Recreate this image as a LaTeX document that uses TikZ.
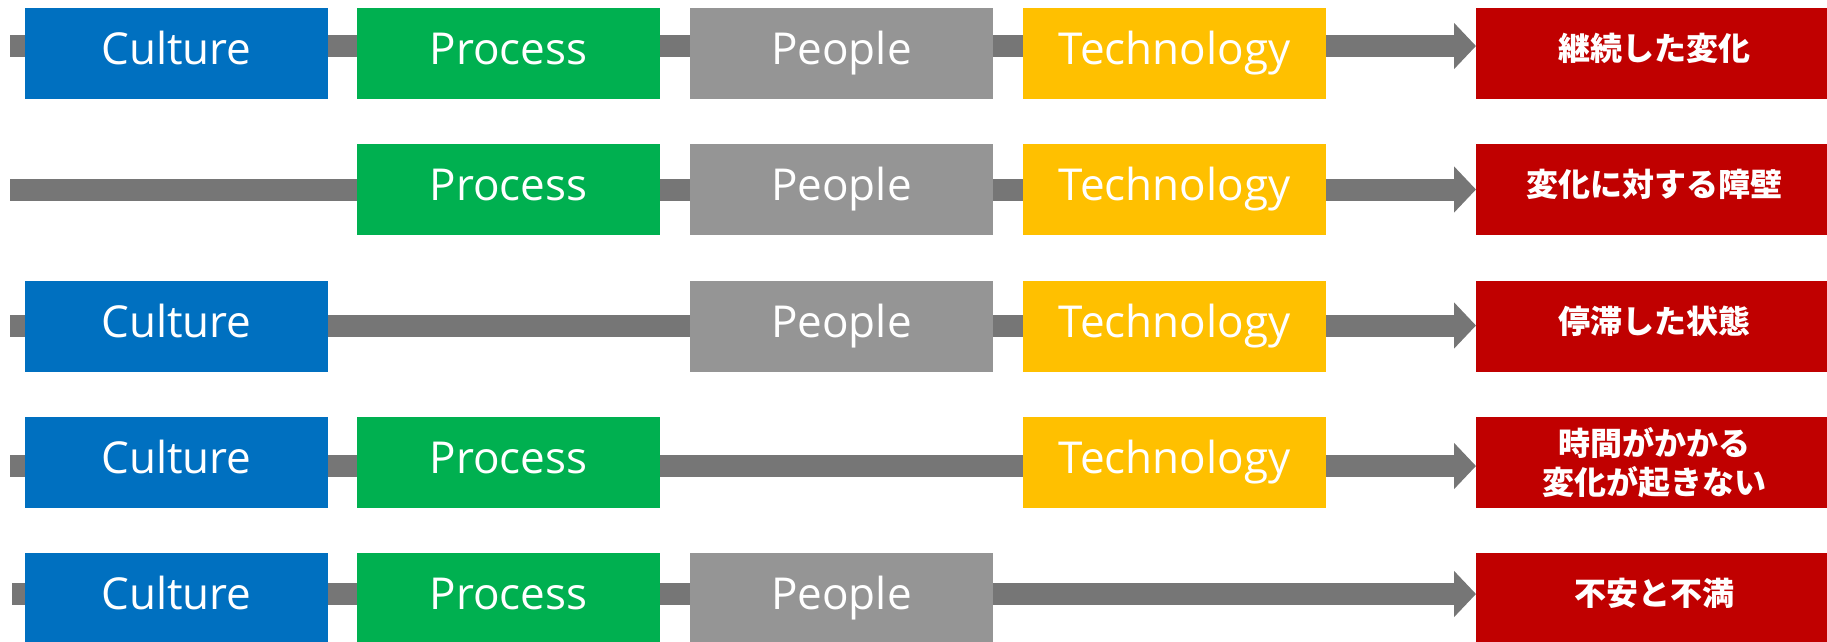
\documentclass[tikz,border=0pt]{standalone}
\usepackage{fontspec}
\setmainfont{Open Sans}
\newfontfamily\cjk{Noto Sans CJK JP}
\usetikzlibrary{arrows.meta,backgrounds}
\definecolor{cblue}{HTML}{0070C0}
\definecolor{cgreen}{HTML}{00B050}
\definecolor{cgray}{HTML}{959595}
\definecolor{cyellow}{HTML}{FFC000}
\definecolor{cred}{HTML}{C00000}
\definecolor{carrow}{HTML}{767676}
\begin{document}
\begin{tikzpicture}[x=1pt,y=-1pt,
  box/.style={rectangle, draw=none, minimum width=303pt, minimum height=91pt,
    anchor=north west, inner sep=0pt, outer sep=0pt, text=white,
    font=\fontsize{44}{50}\selectfont, text height=32pt, text depth=11pt},
  culture/.style={box, fill=cblue},
  process/.style={box, fill=cgreen},
  people/.style={box, fill=cgray},
  tech/.style={box, fill=cyellow},
  result/.style={box, fill=cred, minimum width=356pt,
    font=\cjk\bfseries\fontsize{32}{39}\selectfont, text height=26pt, text depth=13pt},
  flow/.style={draw=carrow, line width=22pt, -{Triangle[length=22pt,width=45pt]}}
]
\clip (0,0) rectangle (1827,641);
\useasboundingbox (0,0) rectangle (1827,641);
% row 1
\node[culture] (c1) at (25,8) {Culture};
\node[process] (p1) at (357,8) {Process};
\node[people]  (e1) at (690,8) {People};
\node[tech]    (t1) at (1023,8) {Technology};
\node[result]  (r1) at (1476,8) {継続した変化};
\coordinate (s1) at (10,46);
% row 2
\node[process] (p2) at (357,144) {Process};
\node[people]  (e2) at (690,144) {People};
\node[tech]    (t2) at (1023,144) {Technology};
\node[result]  (r2) at (1476,144) {変化に対する障壁};
\coordinate (s2) at (10,189.5);
% row 3
\node[culture] (c3) at (25,281) {Culture};
\node[people]  (e3) at (690,281) {People};
\node[tech]    (t3) at (1023,281) {Technology};
\node[result]  (r3) at (1476,281) {停滞した状態};
\coordinate (s3) at (10,325.5);
% row 4
\node[culture] (c4) at (25,417) {Culture};
\node[process] (p4) at (357,417) {Process};
\node[tech]    (t4) at (1023,417) {Technology};
\node[result, align=center, text height=, text depth=] (r4) at (1476,417) {時間がかかる\\変化が起きない};
\coordinate (s4) at (10,466);
% row 5
\node[culture] (c5) at (25,553) {Culture};
\node[process] (p5) at (357,553) {Process};
\node[people]  (e5) at (690,553) {People};
\node[result]  (r5) at (1476,553) {不安と不満};
\coordinate (s5) at (12,594);
\begin{pgfonlayer}{background}
\foreach \i in {1,...,5}{
  \draw[flow] (s\i) -- (s\i -| r\i.west);
}
\end{pgfonlayer}
\end{tikzpicture}
\end{document}
